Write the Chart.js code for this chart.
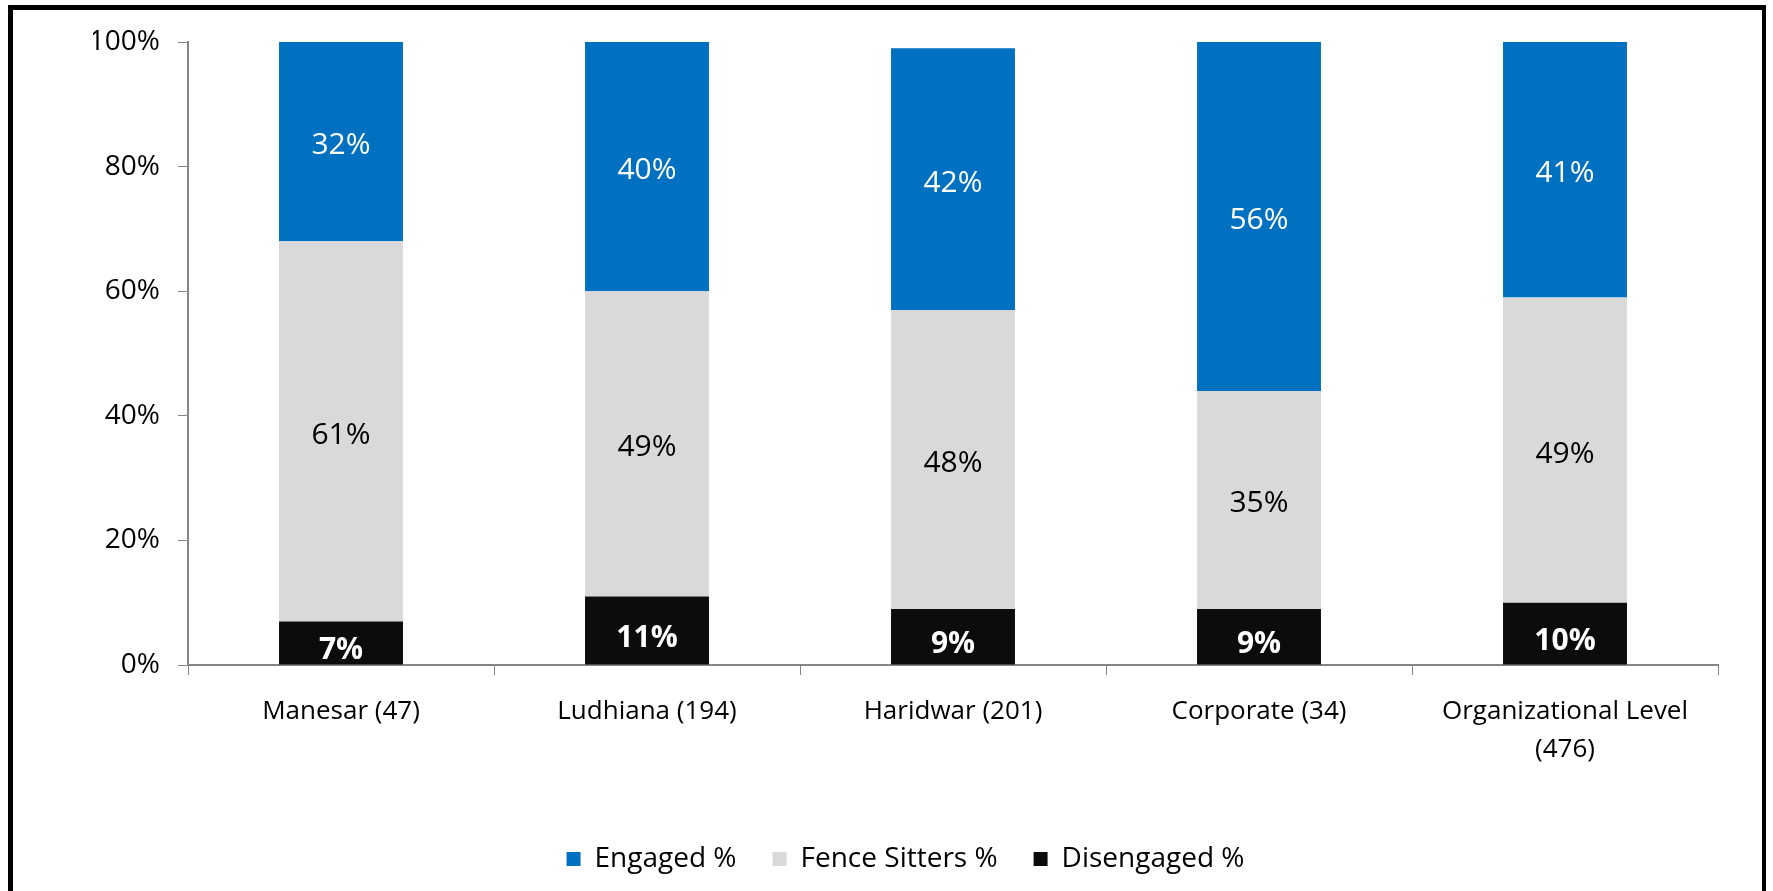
<!DOCTYPE html>
<html>
<head>
<meta charset="utf-8">
<script src="https://cdn.jsdelivr.net/npm/chart.js@4"></script>
<style>
  body { margin: 0; background: #fff; }
  #frame {
    position: absolute; left: 8px; top: 5px;
    width: 1749px; height: 881px;
    border: 5px solid #000; border-right-width: 4px; border-bottom: none;
    background: #fff;
  }
  #chart { position: absolute; left: 0; top: 0; }
</style>
</head>
<body>
<div id="frame"><canvas id="chart" width="1749" height="881"></canvas></div>
<script>
const categories = ["Manesar (47)", "Ludhiana (194)", "Haridwar (201)", "Corporate (34)", ["Organizational Level", "(476)"]];
const engaged = [32, 40, 42, 56, 41];
const fenceSitters = [61, 49, 48, 35, 49];
const disengaged = [7, 11, 9, 9, 10];
const yTicks = [0, 20, 40, 60, 80, 100];

const FONT = "'Open Sans', sans-serif";
const axisGray = "#868686";

// draw the % labels in the middle of each segment
const segmentLabels = {
  id: "segmentLabels",
  afterDatasetsDraw(chart) {
    const ctx = chart.ctx;
    chart.data.datasets.forEach((ds, i) => {
      const meta = chart.getDatasetMeta(i);
      meta.data.forEach((bar, j) => {
        ctx.save();
        ctx.font = (ds.labelBold ? "bold " : "") + "30px " + FONT;
        ctx.fillStyle = ds.labelColor;
        ctx.textAlign = "center";
        ctx.textBaseline = "middle";
        ctx.fillText(ds.data[j] + "%", bar.x, (bar.y + bar.base) / 2 + (ds.labelBold ? 8 : 4));
        ctx.restore();
      });
    });
  },
};

new Chart(document.getElementById("chart"), {
  type: "bar",
  data: {
    labels: categories,
    datasets: [
      { label: "Disengaged %", data: disengaged, backgroundColor: "#0c0c0c", labelColor: "#fff", labelBold: true },
      { label: "Fence Sitters %", data: fenceSitters, backgroundColor: "#d9d9d9", labelColor: "#000" },
      { label: "Engaged %", data: engaged, backgroundColor: "#0070c0", labelColor: "#fff" },
    ],
  },
  options: {
    responsive: false,
    animation: false,
    categoryPercentage: 1,
    barPercentage: 0.405,
    layout: { padding: { top: 32, right: 44, bottom: 8, left: 80 } },
    plugins: {
      tooltip: { enabled: false },
      legend: {
        position: "bottom",
        reverse: true,
        labels: {
          boxWidth: 14,
          boxHeight: 14,
          padding: 36,
          color: "#000",
          font: { family: FONT, size: 28 },
        },
      },
    },
    scales: {
      x: {
        stacked: true,
        grid: { offset: true, drawOnChartArea: false, tickLength: 10, color: axisGray },
        border: { color: axisGray, width: 2 },
        ticks: { color: "#000", padding: 18, maxRotation: 0, font: { family: FONT, size: 26, lineHeight: 1.45 } },
        afterFit(scale) { scale.height = 144; },
      },
      y: {
        stacked: true,
        min: 0,
        max: 100,
        afterBuildTicks(scale) { scale.ticks = yTicks.map((v) => ({ value: v })); },
        grid: { drawOnChartArea: false, tickLength: 10, color: axisGray },
        border: { color: axisGray, width: 2 },
        ticks: { color: "#000", padding: 18, callback: (v) => v + "%", font: { family: FONT, size: 28 } },
        afterFit(scale) {
          scale.width = 95;
          scale.paddingTop = 0;
          scale.paddingBottom = 0;
        },
      },
    },
  },
  plugins: [segmentLabels],
});
</script>
</body>
</html>
